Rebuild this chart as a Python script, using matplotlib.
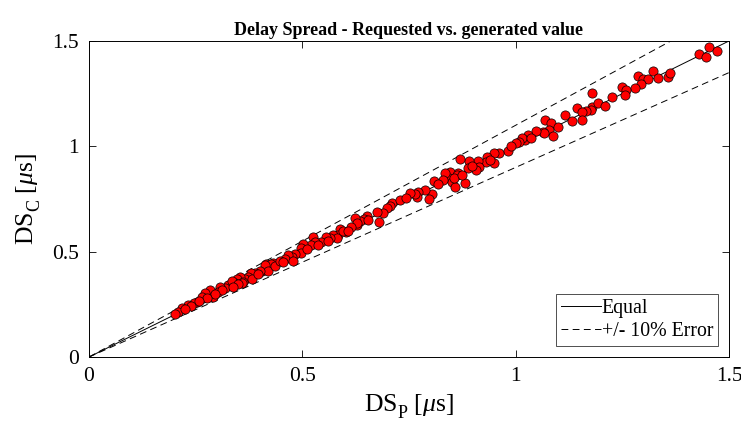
import matplotlib
matplotlib.use("Agg")
import matplotlib.pyplot as plt
import numpy as np

try:
    import matplotlib._mathtext as _mt
    _mt.FontConstantsBase.sub1 = 0.6
except Exception:
    pass

plt.rcParams['font.family'] = ['Liberation Serif', 'DejaVu Serif']
plt.rcParams['mathtext.fontset'] = 'custom'
plt.rcParams['mathtext.rm'] = 'Liberation Serif'
plt.rcParams['mathtext.it'] = 'Liberation Serif:italic'

# Requested (DS_P) and generated (DS_C) delay spread values [us]
ds_p = [1.453, 1.430, 1.445, 1.472, 1.287, 1.299, 1.311, 1.293, 1.279, 1.322,
        1.334, 1.356, 1.362, 1.250, 1.258, 1.256, 1.225, 1.178, 1.180, 1.176,
        1.164, 1.144, 1.156, 1.155, 1.116, 1.131, 1.069, 1.082, 1.078, 1.063,
        1.088, 1.066, 1.047, 1.028, 1.022, 1.014, 1.008, 1.000, 0.983, 0.961,
        0.949, 0.950, 0.932, 0.930, 0.912, 0.914, 0.906, 0.891, 0.889, 0.869,
        0.866, 0.846, 0.862, 0.844, 0.850, 0.858, 0.881, 0.834, 0.830, 0.809,
        0.803, 0.797, 0.787, 0.772, 0.768, 0.764, 0.752, 0.709, 0.705, 0.698,
        0.690, 0.674, 0.680, 0.651, 0.645, 0.635, 0.627, 0.623, 0.627, 0.613,
        0.602, 0.588, 0.584, 0.573, 0.582, 0.565, 0.555, 0.543, 0.526, 0.530,
        0.520, 0.501, 0.498, 0.496, 0.483, 0.475, 0.467, 0.459, 0.477, 0.432,
        0.416, 0.415, 0.405, 0.427, 0.412, 0.420, 0.401, 0.389, 0.380, 0.373,
        0.366, 0.354, 0.346, 0.342, 0.326, 0.319, 0.307, 0.302, 0.288, 0.280,
        0.268, 0.252, 0.247, 0.233, 0.217, 0.209, 0.362, 0.334, 0.284, 0.291,
        0.272, 0.264, 0.381, 0.358, 0.395, 0.350, 0.338, 0.312, 0.296, 0.276,
        0.258, 0.240, 0.225, 0.202, 0.437, 0.448, 0.455, 0.510, 0.536, 0.560,
        0.595, 0.608, 0.655, 0.728, 0.744, 0.818, 0.855, 0.874, 0.897, 0.940,
        0.990, 1.035, 1.100, 1.192, 1.210]
ds_c = [1.473, 1.438, 1.422, 1.454, 1.335, 1.319, 1.319, 1.296, 1.275, 1.357,
        1.326, 1.330, 1.349, 1.283, 1.267, 1.243, 1.235, 1.252, 1.188, 1.172,
        1.169, 1.180, 1.164, 1.125, 1.149, 1.122, 1.125, 1.112, 1.077, 1.069,
        1.049, 1.065, 1.074, 1.054, 1.030, 1.038, 1.019, 1.014, 0.979, 0.970,
        0.967, 0.922, 0.951, 0.924, 0.932, 0.900, 0.888, 0.932, 0.896, 0.940,
        0.875, 0.880, 0.864, 0.848, 0.832, 0.808, 0.827, 0.872, 0.840, 0.835,
        0.774, 0.749, 0.793, 0.785, 0.758, 0.774, 0.780, 0.729, 0.717, 0.706,
        0.685, 0.690, 0.642, 0.669, 0.654, 0.645, 0.626, 0.658, 0.634, 0.618,
        0.592, 0.606, 0.579, 0.579, 0.563, 0.563, 0.571, 0.547, 0.571, 0.547,
        0.532, 0.536, 0.516, 0.492, 0.489, 0.476, 0.484, 0.464, 0.457, 0.448,
        0.441, 0.421, 0.410, 0.441, 0.437, 0.410, 0.410, 0.397, 0.397, 0.381,
        0.369, 0.381, 0.369, 0.350, 0.342, 0.326, 0.331, 0.310, 0.302, 0.286,
        0.279, 0.262, 0.255, 0.247, 0.231, 0.215, 0.357, 0.362, 0.318, 0.286,
        0.302, 0.286, 0.369, 0.350, 0.392, 0.346, 0.333, 0.318, 0.298, 0.282,
        0.265, 0.243, 0.228, 0.205, 0.432, 0.455, 0.450, 0.515, 0.530, 0.552,
        0.600, 0.598, 0.648, 0.745, 0.755, 0.822, 0.850, 0.862, 0.905, 0.935,
        1.002, 1.040, 1.094, 1.205, 1.190]

line_x = [0.0, 1.5]
error_frac = 0.10

fig = plt.figure(figsize=(7.41, 4.23), dpi=100)
ax = fig.add_axes([0.1201, 0.156, 0.8637, 0.7471])

lx = np.array(line_x)
ax.plot(lx, lx, color='black', lw=0.7, label='Equal', zorder=3)
ax.plot(lx, lx * (1 + error_frac), color='black', lw=0.7, ls=(0, (7, 4.5)),
        label='+/- 10% Error', zorder=3)
ax.plot(lx, lx * (1 - error_frac), color='black', lw=0.7, ls=(0, (7, 4.5)), zorder=3)
ax.scatter(ds_p, ds_c, s=44, facecolor='#ff0000', edgecolor='black',
           linewidths=0.5, zorder=4)

ax.set_xlim(0, 1.5)
ax.set_ylim(0, 1.5)
ticks = [0, 0.5, 1, 1.5]
ax.set_xticks(ticks)
ax.set_yticks(ticks)
ax.set_xticklabels(['0', '0.5', '1', '1.5'])
ax.set_yticklabels(['0', '0.5', '1', '1.5'])
ax.tick_params(direction='in', top=True, right=True, labelsize=15.5, length=5,
               width=0.6)
ax.tick_params(axis='x', pad=7)
ax.tick_params(axis='y', pad=7)
for s in ax.spines.values():
    s.set_linewidth(0.7)

ax.set_xlabel(r'$\mathrm{DS}_\mathrm{P}\ [\mu\mathrm{s}]$', fontsize=18.5, labelpad=5)
ax.set_ylabel(r'$\mathrm{DS}_\mathrm{C}\ [\mu\mathrm{s}]$', fontsize=18.5, labelpad=7)
ax.set_title('Delay Spread - Requested vs. generated value', fontsize=13,
             fontweight='bold', pad=4)

leg = ax.legend(loc='lower right', fontsize=14.3, frameon=True, fancybox=False,
                edgecolor='black', handlelength=2.0, handletextpad=0.05,
                borderpad=0.25, labelspacing=0.2, borderaxespad=0.55)
leg.get_frame().set_linewidth(0.6)

fig.savefig('out.png', dpi=100)
